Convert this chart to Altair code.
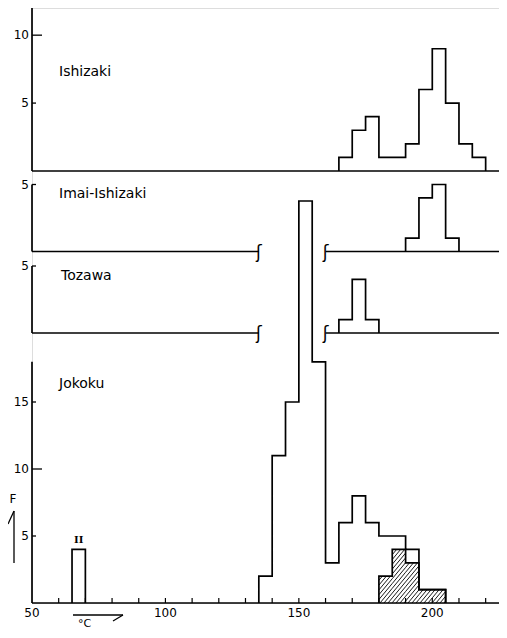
import math
import altair as alt
import pandas as pd

# ---------------- data ----------------
BIN_W = 5
X_MIN, X_MAX = 50, 225

ishizaki_bins = [165, 170, 175, 180, 185, 190, 195, 200, 205, 210, 215]
ishizaki_counts = [1, 3, 4, 1, 1, 2, 6, 9, 5, 2, 1]
imai_bins = [190, 195, 200, 205]
imai_counts = [1, 4, 5, 1]
tozawa_bins = [165, 170, 175]
tozawa_counts = [1, 4, 1]
jokoku_bins = [65, 135, 140, 145, 150, 155, 160, 165, 170, 175, 180, 185, 190, 195, 200]
jokoku_counts = [4, 2, 11, 15, 30, 18, 3, 6, 8, 6, 5, 5, 4, 1, 1]
hatched_bins = [180, 185, 190, 195, 200]
hatched_counts = [2, 4, 3, 1, 1]

panel_names = ["Ishizaki", "Imai-Ishizaki", "Tozawa", "Jokoku"]
y_max = [12, 5, 5, 18]
y_tick_labels = [[5, 10], [5], [5], [5, 10, 15]]
y_major_ticks = [[10], [], [], [10]]
y_minor_ticks = [[5], [5], [5], [5, 15]]
x_tick_labels = [50, 100, 150, 200]
x_minor_ticks = [60, 70, 80, 90, 100, 110, 120, 130, 140, 150, 160, 170, 180, 190, 200, 210, 220]
break_left, break_right = 135, 160
marker_bin, marker_label = 65, "II"
y_title = "F"
x_title = "°C"

# ---------------- layout / style ----------------
PLOT_W, PLOT_H = 467, 595
panel_ranges = [[163, 0], [243.5, 176.5], [325, 258], [595, 353.8]]
label_pos = [(27, 68), (27, 190), (29, 271.5), (27, 379.5)]
FONT = "DejaVu Sans"
LW = 1.7

xscale = alt.Scale(domain=[X_MIN, X_MAX], nice=False, zero=False)
NOAX = None


def step_df(bins, counts):
    rows = []
    run = 0
    end = None
    for b, c in zip(bins, counts):
        if end is None or b != end:
            if end is not None:
                rows.append(dict(x=end, y=0, run=run, i=len(rows)))
                run += 1
            rows.append(dict(x=b, y=0, run=run, i=len(rows)))
        rows.append(dict(x=b, y=c, run=run, i=len(rows)))
        end = b + BIN_W
    rows.append(dict(x=end, y=0, run=run, i=len(rows)))
    return pd.DataFrame(rows)


def hatch_df(bins, counts, rng, ymax, spacing=4.0, slope=1.2):
    sx = PLOT_W / (X_MAX - X_MIN)
    sy = (rng[0] - rng[1]) / ymax
    rows = []
    for b, c in zip(bins, counts):
        X0 = (b - X_MIN) * sx
        X1 = (b + BIN_W - X_MIN) * sx
        H = c * sy
        k = math.floor((X0 - H / slope) / spacing)
        while k * spacing <= X1:
            c0 = k * spacing
            xa = max(X0, c0)
            xb = min(X1, c0 + H / slope)
            if xb - xa > 0.3:
                rows.append(dict(x=X_MIN + xa / sx, y=slope * (xa - c0) / sy,
                                 x2=X_MIN + xb / sx, y2=slope * (xb - c0) / sy))
            k += 1
    return pd.DataFrame(rows)


def yscale(k):
    return alt.Scale(domain=[0, y_max[k]], range=panel_ranges[k], nice=False, zero=False)


def y_axis_layers(k):
    out = []
    dom = pd.DataFrame({"lo": [0], "hi": [y_max[k]]})
    out.append(alt.Chart(dom).mark_rule(color="black", strokeWidth=LW).encode(
        x=alt.value(0), y=alt.Y("lo:Q", scale=yscale(k), axis=NOAX), y2="hi:Q"))
    lab = pd.DataFrame({"v": y_tick_labels[k]})
    out.append(alt.Chart(lab).mark_text(font=FONT, fontSize=12, align="right", baseline="middle",
                                        color="black").encode(
        x=alt.value(-3), y=alt.Y("v:Q", scale=yscale(k), axis=NOAX), text="v:Q"))
    for vals, length in ((y_major_ticks[k], 10), (y_minor_ticks[k], 4)):
        if vals:
            out.append(alt.Chart(pd.DataFrame({"v": vals})).mark_rule(color="black", strokeWidth=1.3).encode(
                y=alt.Y("v:Q", scale=yscale(k), axis=NOAX), x=alt.value(0), x2=alt.value(length)))
    return out


def hist_line(k, bins, counts):
    return alt.Chart(step_df(bins, counts)).mark_line(
        interpolate="step-after", color="black", strokeWidth=LW, strokeJoin="miter").encode(
        x=alt.X("x:Q", scale=xscale, axis=NOAX),
        y=alt.Y("y:Q", scale=yscale(k), axis=NOAX),
        detail="run:N", order="i:Q")


def baseline_layers(k, segments, squiggles):
    seg = pd.DataFrame({"a": [s[0] for s in segments], "b": [s[1] for s in segments], "z": [0] * len(segments)})
    out = [alt.Chart(seg).mark_rule(color="black", strokeWidth=LW).encode(
        x=alt.X("a:Q", scale=xscale, axis=NOAX), x2="b:Q",
        y=alt.Y("z:Q", scale=yscale(k), axis=NOAX))]
    if squiggles:
        sq = pd.DataFrame({"a": squiggles, "z": [0] * len(squiggles), "t": ["ʃ"] * len(squiggles)})
        out.append(alt.Chart(sq).mark_text(font=FONT, fontSize=17, color="black", baseline="middle", dy=1).encode(
            x=alt.X("a:Q", scale=xscale, axis=NOAX), y=alt.Y("z:Q", scale=yscale(k), axis=NOAX), text="t:N"))
    return out


# Ishizaki
p0 = alt.layer(hist_line(0, ishizaki_bins, ishizaki_counts),
               *baseline_layers(0, [(X_MIN, X_MAX)], []), *y_axis_layers(0))
# Imai-Ishizaki
p1 = alt.layer(hist_line(1, imai_bins, imai_counts),
               *baseline_layers(1, [(X_MIN, break_left), (break_right, X_MAX)], [break_left, break_right]),
               *y_axis_layers(1))
# Tozawa
p2 = alt.layer(hist_line(2, tozawa_bins, tozawa_counts),
               *baseline_layers(2, [(X_MIN, break_left), (break_right, X_MAX)], [break_left, break_right]),
               *y_axis_layers(2))

# Jokoku
hd = hatch_df(hatched_bins, hatched_counts, panel_ranges[3], y_max[3])
hatch = alt.Chart(hd).mark_rule(color="black", strokeWidth=0.9).encode(
    x=alt.X("x:Q", scale=xscale, axis=NOAX), x2="x2:Q",
    y=alt.Y("y:Q", scale=yscale(3), axis=NOAX), y2="y2:Q")
hatch_outline = hist_line(3, hatched_bins, hatched_counts)
x_dom = alt.Chart(pd.DataFrame({"a": [X_MIN], "b": [X_MAX]})).mark_rule(color="black", strokeWidth=LW).encode(
    x=alt.X("a:Q", scale=xscale, axis=NOAX), x2="b:Q", y=alt.value(PLOT_H))
xt = alt.Chart(pd.DataFrame({"t": x_minor_ticks})).mark_rule(color="black", strokeWidth=1.2).encode(
    x=alt.X("t:Q", scale=xscale, axis=NOAX), y=alt.value(PLOT_H), y2=alt.value(PLOT_H - 5))
xl = alt.Chart(pd.DataFrame({"t": x_tick_labels})).mark_text(
    font=FONT, fontSize=12, align="center", baseline="top", color="black").encode(
    x=alt.X("t:Q", scale=xscale, axis=NOAX), y=alt.value(PLOT_H + 5), text="t:Q")
mi = jokoku_bins.index(marker_bin)
marker = alt.Chart(pd.DataFrame({"x": [marker_bin + BIN_W / 2], "y": [jokoku_counts[mi]], "t": [marker_label]})).mark_text(
    font="DejaVu Serif", fontWeight="bold", fontSize=10, baseline="bottom", dy=-4, color="black").encode(
    x=alt.X("x:Q", scale=xscale, axis=NOAX), y=alt.Y("y:Q", scale=yscale(3), axis=NOAX), text="t:N")
p3 = alt.layer(hist_line(3, jokoku_bins, jokoku_counts), hatch, hatch_outline, x_dom, xt, xl, marker,
               *y_axis_layers(3))

# annotations
one = pd.DataFrame({"k": [0]})
labels = []
for name, (lx, ly) in zip(panel_names, label_pos):
    labels.append(alt.Chart(pd.DataFrame({"t": [name]})).mark_text(
        font=FONT, fontSize=14, align="left", baseline="alphabetic", color="black").encode(
        x=alt.value(lx), y=alt.value(ly), text="t:N"))


def seg(x1, y1, x2, y2, w=1.3):
    return alt.Chart(one).mark_rule(color="black", strokeWidth=w).encode(
        x=alt.value(x1), y=alt.value(y1), x2=alt.value(x2), y2=alt.value(y2))


f_text = alt.Chart(pd.DataFrame({"t": [y_title]})).mark_text(
    font=FONT, fontSize=12, align="center", baseline="alphabetic", color="black").encode(
    x=alt.value(-19), y=alt.value(495), text="t:N")
c_text = alt.Chart(pd.DataFrame({"t": [x_title]})).mark_text(
    font=FONT, fontSize=11, align="left", baseline="alphabetic", color="black").encode(
    x=alt.value(46), y=alt.value(619), text="t:N")
arrows = [seg(-18, 555, -18, 503), seg(-24, 516, -18, 503),
          seg(41, 607, 91, 607), seg(81, 613, 91, 607)]

chart = alt.layer(p0, p1, p2, p3, *labels, f_text, c_text, *arrows).resolve_scale(
    y="independent").properties(
    width=PLOT_W, height=PLOT_H,
    autosize=alt.AutoSizeParams(type="none"),
    padding={"left": 24, "top": 0, "right": 0, "bottom": 27},
).configure_view(stroke=None).configure(background="white")

chart.save("out.html", embed_options={"renderer": "svg", "actions": False})
